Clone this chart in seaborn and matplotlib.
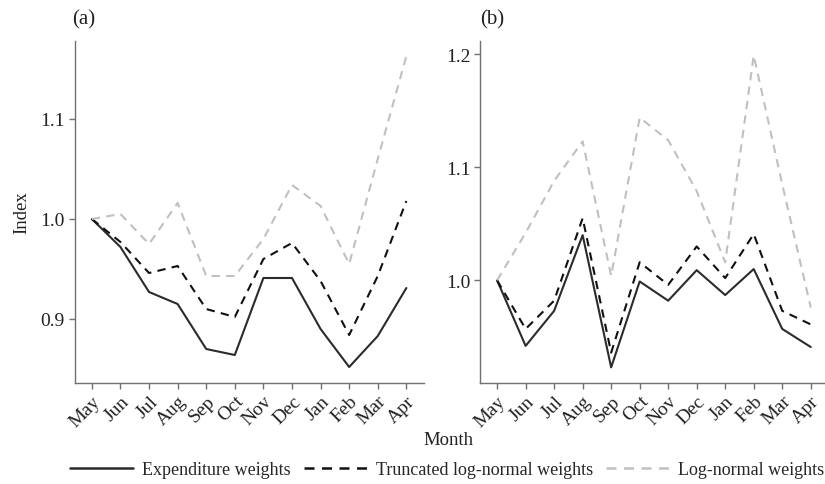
import numpy as np
import pandas as pd
import matplotlib
matplotlib.use("Agg")
import matplotlib.pyplot as plt
import seaborn as sns
from matplotlib.lines import Line2D

months = ["May", "Jun", "Jul", "Aug", "Sep", "Oct", "Nov", "Dec", "Jan", "Feb", "Mar", "Apr"]
series_names = ["Expenditure weights", "Truncated log-normal weights", "Log-normal weights"]

# Panel (a)
a_expenditure = [1.000, 0.972, 0.927, 0.915, 0.870, 0.864, 0.941, 0.941, 0.890, 0.852, 0.883, 0.931]
a_truncated   = [1.000, 0.977, 0.946, 0.953, 0.910, 0.902, 0.960, 0.976, 0.938, 0.884, 0.943, 1.018]
a_lognormal   = [1.000, 1.005, 0.975, 1.016, 0.943, 0.943, 0.980, 1.034, 1.013, 0.955, 1.060, 1.163]

# Panel (b)
b_expenditure = [1.000, 0.942, 0.973, 1.040, 0.923, 0.999, 0.982, 1.009, 0.987, 1.010, 0.957, 0.941]
b_truncated   = [1.000, 0.957, 0.982, 1.055, 0.936, 1.016, 0.996, 1.030, 1.002, 1.041, 0.973, 0.961]
b_lognormal   = [1.000, 1.042, 1.088, 1.123, 1.004, 1.144, 1.124, 1.079, 1.016, 1.199, 1.085, 0.976]

a_ticks = [0.9, 1.0, 1.1]
b_ticks = [1.0, 1.1, 1.2]

colors = {"Expenditure weights": "#2b2b2b",
          "Truncated log-normal weights": "#111111",
          "Log-normal weights": "#c0c0c0"}
dash_map = {"Expenditure weights": "",
            "Truncated log-normal weights": (4, 3),
            "Log-normal weights": (4, 3)}


def make_df(exp, tru, logn):
    frames = []
    for name, vals in zip(series_names, [exp, tru, logn]):
        frames.append(pd.DataFrame({"pos": np.arange(len(months)), "Month": months,
                                    "Index": vals, "Weights": name}))
    return pd.concat(frames, ignore_index=True)


df_a = make_df(a_expenditure, a_truncated, a_lognormal)
df_b = make_df(b_expenditure, b_truncated, b_lognormal)

sns.set_theme(style="white")
plt.rcParams["font.family"] = ["Liberation Serif", "DejaVu Serif"]
plt.rcParams["font.size"] = 13

fig = plt.figure(figsize=(8.25, 4.85), dpi=100)
W, H = 825.0, 485.0
ax_a = fig.add_axes([74.7 / W, 1 - 383.5 / H, (423.5 - 74.7) / W, (383.5 - 42) / H])
ax_b = fig.add_axes([480 / W, 1 - 383.5 / H, (825 - 480) / W, (383.5 - 42) / H])

spine_col = "#707070"
txt_col = "#222222"
for ax, df, ylim, ticks, xr in [(ax_a, df_a, (0.8365, 1.178), a_ticks, 11.6),
                                (ax_b, df_b, (0.9096, 1.2118), b_ticks, 11.5)]:
    sns.lineplot(data=df, x="pos", y="Index", hue="Weights", style="Weights",
                 palette=colors, dashes=dash_map, hue_order=series_names,
                 style_order=series_names, linewidth=1.5, ax=ax, legend=False)
    ax.set_xlim(-0.6, xr)
    ax.set_ylim(*ylim)
    ax.set_yticks(ticks)
    ax.set_yticklabels([f"{t:.1f}" for t in ticks], fontsize=14, color=txt_col)
    ax.set_xticks(np.arange(len(months)))
    ax.set_xticklabels(months, rotation=45, ha="right", va="top",
                       rotation_mode="anchor", fontsize=14, color=txt_col)
    ax.set_xlabel("")
    ax.set_ylabel("")
    for s in ["top", "right"]:
        ax.spines[s].set_visible(False)
    for s in ["left", "bottom"]:
        ax.spines[s].set_color(spine_col)
        ax.spines[s].set_linewidth(1.0)
    ax.tick_params(axis="both", which="both", length=4, width=1.0, color=spine_col,
                   direction="out", bottom=True, left=True, pad=3)

ax_a.set_ylabel("Index", fontsize=13.5, color=txt_col, labelpad=7)
fig.text(72 / W, 1 - 20 / H, "(a)", fontsize=15, ha="left", va="center", color=txt_col)
fig.text(480 / W, 1 - 20 / H, "(b)", fontsize=15, ha="left", va="center", color=txt_col)
fig.text(448 / W, 1 - 441 / H, "Month", fontsize=13.5, ha="center", va="center", color=txt_col)

handles = [Line2D([], [], color=colors[n], linewidth=1.8,
                  linestyle="-" if dash_map[n] == "" else (0, dash_map[n]))
           for n in series_names]
fig.legend(handles, series_names, loc="center", bbox_to_anchor=(447 / W, 1 - 470.5 / H),
           ncol=3, frameon=False, fontsize=13, handlelength=3.5, handletextpad=0.5,
           columnspacing=0.7, borderaxespad=0, borderpad=0)

fig.savefig("out.png", dpi=100)
